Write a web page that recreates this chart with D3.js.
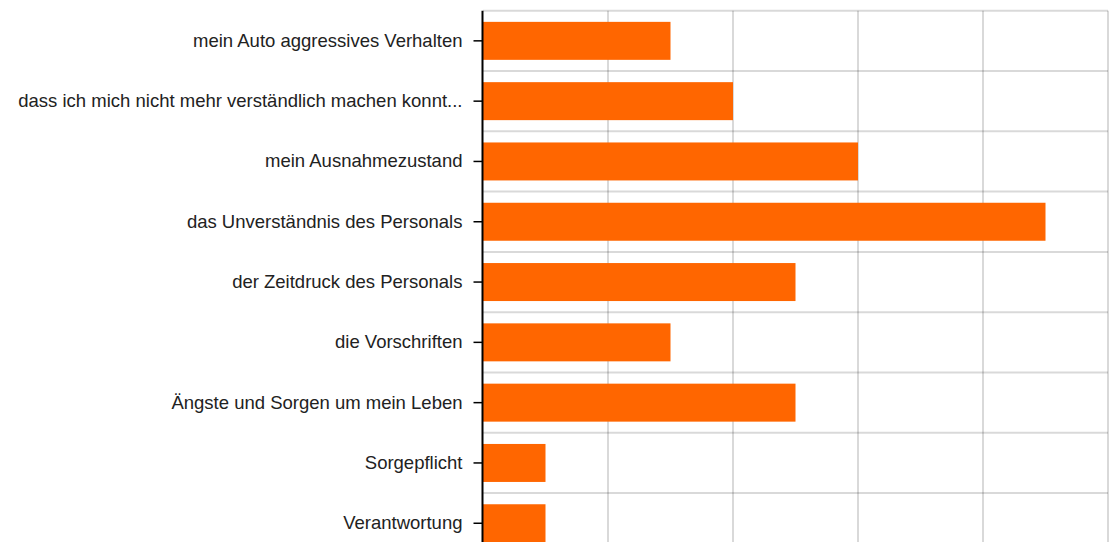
<!DOCTYPE html>
<html>
<head>
<meta charset="utf-8">
<script src="https://d3js.org/d3.v7.min.js"></script>
<style>
  body { margin: 0; background: #fff; }
  svg { display: block; }
</style>
</head>
<body>
<script>
var categories = [
  "mein Auto aggressives Verhalten",
  "dass ich mich nicht mehr verständlich machen konnt...",
  "mein Ausnahmezustand",
  "das Unverständnis des Personals",
  "der Zeitdruck des Personals",
  "die Vorschriften",
  "Ängste und Sorgen um mein Leben",
  "Sorgepflicht",
  "Verantwortung"
];
var values = [3, 4, 6, 9, 5, 3, 5, 1, 1];
var xTicks = [0, 2, 4, 6, 8, 10];

var width = 1115, height = 542;
var marginLeft = 483, marginRight = 1108, marginTop = 10.7;
var rowH = 60.3;

var svg = d3.select("body").append("svg").attr("width", width).attr("height", height);

var x = d3.scaleLinear().domain([0, 10]).range([marginLeft, marginRight]);
var y = d3.scaleBand().domain(categories)
    .range([marginTop, marginTop + rowH * categories.length])
    .paddingInner(0.37).paddingOuter(0.185);

// grid
var grid = svg.append("g").attr("stroke", "#000").attr("stroke-opacity", 0.15).attr("stroke-width", 2);
grid.selectAll("line.v").data(xTicks.slice(1)).enter().append("line")
    .attr("x1", function(d){ return x(d); }).attr("x2", function(d){ return x(d); })
    .attr("y1", marginTop).attr("y2", height);
grid.selectAll("line.h").data(d3.range(categories.length)).enter().append("line")
    .attr("x1", marginLeft).attr("x2", marginRight)
    .attr("y1", function(i){ return marginTop + i * rowH; })
    .attr("y2", function(i){ return marginTop + i * rowH; });

// bars
svg.append("g").selectAll("rect").data(values).enter().append("rect")
    .attr("x", x(0))
    .attr("y", function(d, i){ return y(categories[i]); })
    .attr("width", function(d){ return x(d) - x(0); })
    .attr("height", y.bandwidth())
    .attr("fill", "#ff6600");

// y axis
var yAxis = svg.append("g").attr("transform", "translate(" + (marginLeft - 0.5) + ",0)")
    .call(d3.axisLeft(y).tickSize(9).tickPadding(11).tickSizeOuter(0));
yAxis.select(".domain").attr("stroke", "#000").attr("stroke-width", 2).attr("d", "M0," + marginTop + "V" + height);
yAxis.selectAll(".tick line").attr("stroke", "#000").attr("stroke-width", 1.5);
yAxis.selectAll(".tick text")
    .attr("font-family", "'Liberation Sans', Arial, sans-serif")
    .attr("font-size", 18.5)
    .attr("fill", "#222");
</script>
</body>
</html>
